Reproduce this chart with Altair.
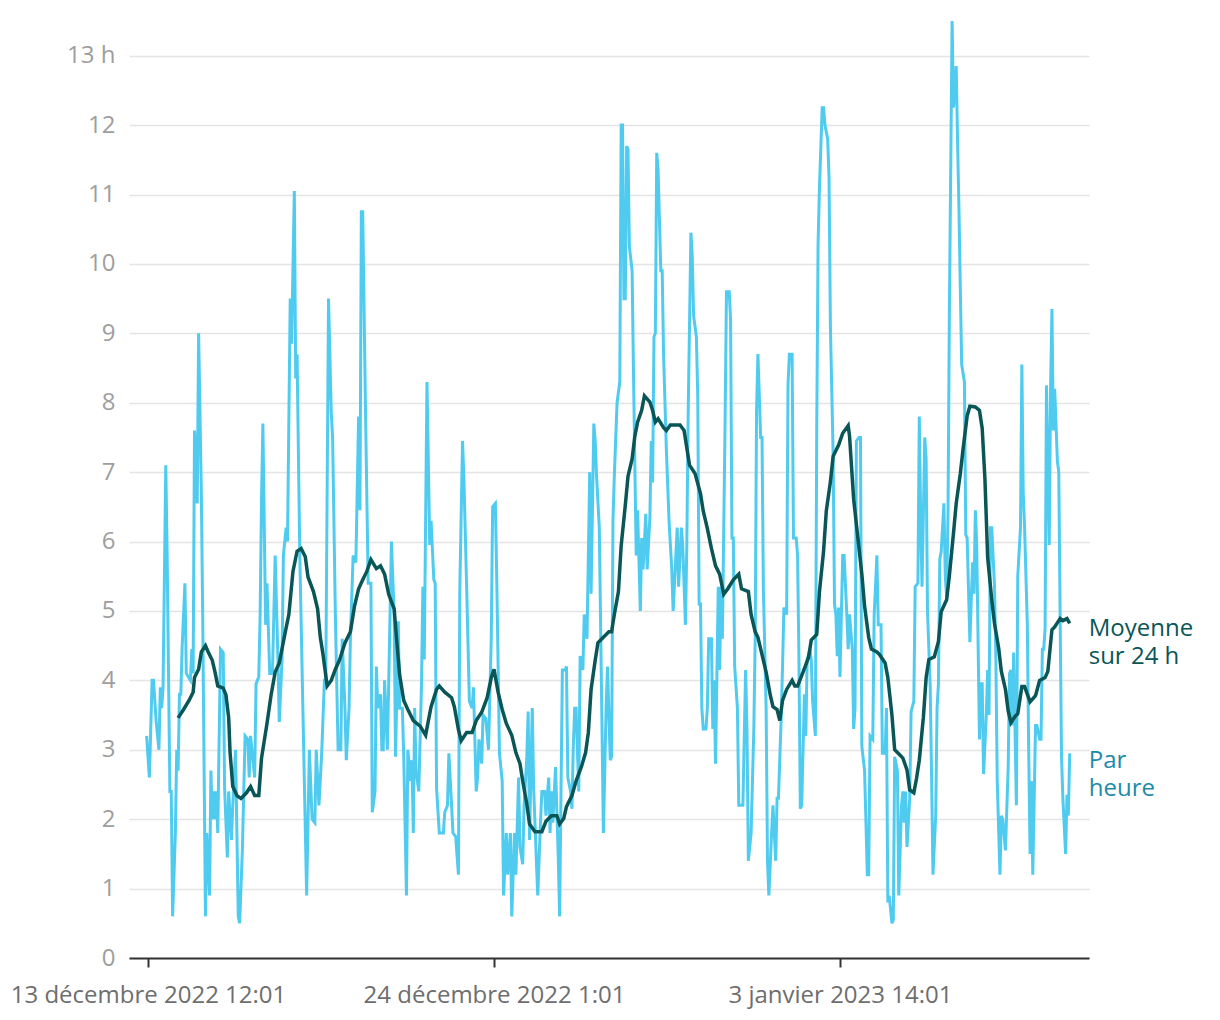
import json
import altair as alt
import pandas as pd

# ---------------- data ----------------
START = "2022-12-13 12:01"   # reference instant, hour offsets below are relative to it

# hourly series: (hour offset, value in h), split by stretch
HOURLY_A = [(-1,3.2),(1,2.6),(3,4.0),(4,4.0),(6,3.4),(8,3.0),(9,3.9),(10,3.6),(11,3.9),(13,7.1),
            (14,5.8),(16,2.4),(17,2.4),(18,0.6),(20,1.8),(21,3.0),(22,2.7),(23,3.8),(24,3.8),(25,4.5),
            (27,5.4),(28,4.1),(31,4.0),(32,4.45),(33,4.1),(34,7.6),(36,6.55),(37,9.0),(39,6.7),(40,4.95),
            (42,0.6),(43,1.8),(45,0.9),(46,2.7),(47,2.0),(48,2.4),(49,2.0),(50,2.4),(51,1.8),(53,4.45),
            (55,4.4),(56,2.45),(58,1.45),(59,2.4),(61,1.7),(62,2.2),(64,3.0),(66,0.6),(67,0.5),(69,1.55),
            (71,3.2),(73,3.15),(74,2.6),(75,3.2),(78,2.6),(79,3.95),(81,4.05),(82,4.95),(83,6.6),(84,7.7),
            (86,4.8),(87,5.4),(89,4.1),(91,4.1),(93,5.8),(95,4.3),(96,3.4),(98,4.3),(99,5.8),(101,6.2),
            (102,6.0),(104,9.5),(105,8.85),(107,11.05),(108,8.35),(109,8.7),(111,5.8),(116,0.9)]
HOURLY_B = [(118,3.0),(120,2.0),(122,1.95),(123,3.0),(125,2.2),(127,2.95),(129,4.0),(130,4.0),(132,9.5),(134,7.85),
            (135,7.5),(137,4.95),(139,3.0),(141,3.0),(142,4.6),(144,3.6),(145,2.85),(147,3.6),(148,4.6),(150,5.8),
            (152,5.7),(154,7.8),(155,6.45),(156,10.75),(157,10.75),(159,7.95),(161,5.4),(163,5.4),(164,2.1),(166,2.4),
            (167,4.2),(168,3.6),(170,3.8),(171,3.0),(172,3.0),(173,4.0),(175,3.0),(176,3.95),(178,6.0),(180,4.95),
            (181,2.9),(183,4.85),(184,3.6),(186,3.6),(187,2.9),(189,0.9),(190,3.0),(192,2.55),(193,2.85),(194,1.8),
            (195,3.6),(196,2.7),(198,2.4),(200,3.95),(201,5.35),(202,4.3),(204,8.3),(206,5.95),(207,6.3),(209,5.45),
            (210,5.4),(211,2.45),(213,1.8),(216,1.8),(217,2.1),(219,2.2),(220,2.95),(222,2.2),(223,1.8),(225,1.75),
            (227,1.2),(228,5.3),(230,7.45),(231,6.9),(233,5.35),(235,3.7)]
HOURLY_C = [(237,3.6),(238,3.9),(240,2.4),(241,2.6),(242,3.15),(244,2.8),(245,3.5),(247,3.45),(249,3.0),(251,4.6),
            (252,6.5),(254,6.55),(255,5.5),(257,2.95),(259,2.55),(260,0.9),(262,1.8),(263,1.2),(265,1.8),(266,0.6),
            (268,1.8),(269,1.2),(271,2.6),(272,1.6),(274,1.35),(275,2.2),(277,2.9),(278,3.55),(279,1.7),(281,3.6),
            (282,2.45),(284,1.4),(285,0.9),(287,1.95),(288,2.4),(290,2.4),(291,2.05),(293,2.6),(294,1.8),(295,2.4),
            (296,1.95),(298,2.75),(300,1.45),(301,0.6),(303,4.15),(305,4.15),(306,4.2),(307,2.6),(309,2.4),(310,2.15),
            (311,3.05),(312,3.6),(313,3.6),(315,2.4),(316,4.35),(318,4.15),(319,4.95),(321,4.6),(323,7.0),(324,5.25),
            (326,7.7),(327,7.45),(328,6.95),(330,6.2),(332,3.3),(333,1.8),(335,3.6),(336,4.2),(338,2.85),(339,2.9),
            (340,6.3),(341,6.95),(343,8.0),(345,8.3),(346,12.0),(347,12.0),(348,9.5),(349,9.5)]
HOURLY_D = [(350,11.7),(351,11.65),(352,10.25),(354,9.9),(355,8.45),(357,5.8),(358,6.45),(360,5.0),(361,6.05),(362,5.6),
            (364,6.4),(365,5.6),(367,6.35),(368,7.45),(369,6.85),(370,8.95),(371,9.0),(372,11.6),(373,11.35),(375,9.9),
            (376,9.9),(377,8.7),(379,7.35),(381,6.3),(383,5.6),(384,5.0),(386,5.8),(387,6.2),(388,5.35),(390,6.2),
            (391,5.95),(393,4.8),(394,5.95),(395,7.85),(397,10.45),(398,10.1),(399,9.25),(401,8.95),(402,8.1),(403,5.1),
            (404,5.1),(405,3.6),(406,3.3),(408,3.3),(409,3.6),(410,4.6),(412,4.6),(413,3.3),(414,4.0),(415,2.8),
            (417,5.35),(418,4.15),(419,5.35),(420,4.6),(422,7.75),(423,9.6),(425,9.6),(426,9.2),(427,6.05),(428,6.05),
            (429,4.2),(431,3.6),(432,2.2),(435,2.2),(437,4.15),(438,3.3),(439,1.4),(441,1.8),(443,3.3),(444,4.6),
            (445,7.9),(446,8.7),(448,7.5),(449,7.5),(450,5.3),(452,3.6),(453,1.4),(454,0.9),(456,1.8),(457,2.2),
            (458,1.8),(459,1.4),(460,2.3),(461,2.3),(463,3.45),(464,4.2),(465,5.05),(467,4.95),(468,8.25),(469,8.7)]
HOURLY_E = [(471,8.7),(472,6.05),(474,6.05),(475,5.8),(476,4.3),(477,2.15),(478,2.2),(480,3.8),(481,3.2),(482,4.3),
            (484,4.45),(485,4.3),(486,3.7),(488,3.2),(489,7.6),(490,10.3),(491,11.1),(493,12.25),(494,12.25),(495,12.0),
            (497,11.8),(498,11.25),(499,9.1),(501,7.25),(502,5.1),(503,4.95),(504,4.35),(505,5.05),(506,4.05),(508,5.8),
            (509,5.8),(511,4.95),(512,4.45),(513,4.95),(515,4.45),(516,3.3),(517,3.6),(518,7.45),(520,7.5),(521,7.5),
            (522,3.05),(524,2.7),(526,1.2),(527,1.2),(528,3.2),(530,3.15),(531,4.95),(532,5.35),(533,5.8),(534,4.8),
            (536,4.8),(537,2.95),(539,2.95),(540,3.6),(541,0.8),(542,0.9),(544,0.5),(545,0.55),(546,2.9),(548,2.7),
            (549,0.9),(551,2.2),(552,2.4),(553,1.95),(554,2.4),(555,1.6),(557,2.3),(558,3.55),(560,3.7),(561,5.35),
            (563,5.4),(564,7.8),(565,6.35),(566,5.35),(568,7.5),(569,7.2),(570,5.0),(572,3.9),(573,2.6),(574,1.2)]
HOURLY_F = [(576,2.05),(577,3.6),(578,3.95),(579,5.75),(580,5.85),(582,6.55),(583,5.5),(584,5.2),(585,6.4),(586,9.3),
            (587,11.4),(588,13.5),(589,12.25),(591,12.85),(592,11.75),(593,10.8),(594,9.65),(595,8.55),(597,8.3),(598,6.1),
            (599,6.05),(601,4.55),(602,5.15),(603,5.7),(604,5.25),(605,6.45),(606,5.95),(608,3.15),(609,3.95),(610,3.95),
            (611,2.65),(613,3.5),(614,4.15),(615,3.5),(616,6.2),(617,6.2),(619,5.35),(620,4.3),(621,2.55),(623,1.2),
            (624,2.05),(625,2.0),(627,1.55),(629,2.75),(630,4.1),(631,4.15),(632,3.35),(633,4.4),(635,2.2),(636,5.5),
            (638,6.2),(639,8.55),(640,6.7),(641,6.2),(643,4.8),(644,3.0),(645,1.5),(646,2.55),(647,1.2),(649,3.35),
            (650,3.35),(652,3.15),(653,3.15),(654,4.45),(655,4.45),(656,4.75),(657,8.25),(659,5.95),(660,8.2),(661,9.35),
            (662,7.6),(663,8.2),(665,7.15),(666,7.0),(667,4.9),(668,2.9),(669,2.3),(671,1.5),(672,2.35),(673,2.05),(674,2.95)]

# 24 h moving average, read separately
AVG_1 = [(22,3.46),(26,3.58),(30,3.71),(33,3.83),(34,4.04),(37,4.16),(39,4.41),(42,4.5),(44,4.41),(47,4.29),
         (49,4.12),(51,3.92),(55,3.89),(57,3.79),(59,3.46),(60,2.96),(62,2.47),(65,2.34),(68,2.3),(72,2.38),
         (75,2.47),(78,2.34),(81,2.34),(83,2.88),(87,3.38),(90,3.79),(93,4.12),(96,4.25),(100,4.66),(103,4.95),
         (106,5.57),(109,5.86),(112,5.9),(115,5.78),(117,5.49),(121,5.28),(124,5.03),(126,4.62),(128,4.37),(131,3.92),
         (134,4.0),(137,4.16),(140,4.29),(144,4.54),(148,4.7),(151,5.07),(154,5.32),(157,5.45),(160,5.57),(163,5.74),
         (167,5.61),(170,5.65),(173,5.53),(176,5.24),(180,5.03),(182,4.54),(184,4.08),(187,3.71),(190,3.58),(194,3.42),
         (199,3.34),(203,3.21),(207,3.62),(211,3.87),(213,3.92),(217,3.83),(222,3.75),(224,3.62),(227,3.29),(229,3.13)]
AVG_2 = [(233,3.25),(237,3.25),(240,3.42),(244,3.54),(248,3.75),(251,4.04),(253,4.16),(256,3.83),(259,3.58),(262,3.38),
         (266,3.21),(269,2.96),(272,2.8),(274,2.55),(277,2.22),(279,1.93),(283,1.82),(288,1.82),(291,1.97),(295,2.05),
         (299,2.05),(301,1.93),(304,2.01),(306,2.18),(310,2.34),(313,2.55),(317,2.76),(320,2.96),(322,3.25),(324,3.87),
         (327,4.29),(329,4.54),(333,4.62),(337,4.7),(339,4.7),(341,4.95),(344,5.28),(346,5.94),(349,6.52),(351,6.94),
         (354,7.19),(356,7.52),(358,7.72),(361,7.89),(363,8.1),(367,8.01),(369,7.89),(371,7.72),(373,7.77),(377,7.64),
         (379,7.6),(382,7.68),(385,7.68),(389,7.68),(392,7.6),(394,7.35),(396,7.1),(400,6.98),(404,6.69),(406,6.44),
         (409,6.19),(412,5.9),(415,5.65),(418,5.53),(421,5.24),(424,5.32),(428,5.45),(432,5.53),(434,5.32),(439,5.28)]
AVG_3 = [(441,4.95),(444,4.7),(446,4.62),(449,4.37),(452,4.12),(455,3.79),(457,3.62),(460,3.58),(462,3.42),(464,3.71),
         (467,3.87),(471,4.0),(473,3.92),(475,3.92),(479,4.12),(483,4.33),(485,4.58),(489,4.66),(491,5.28),(494,5.86),
         (496,6.44),(499,6.86),(501,7.23),(505,7.39),(508,7.56),(512,7.67),(513,7.52),(516,6.61),(519,6.07),(522,5.53),
         (524,5.07),(527,4.62),(529,4.45),(533,4.41),(535,4.37),(539,4.25),(541,4.04),(544,3.5),(546,3.0),(550,2.92),
         (552,2.88),(555,2.71),(557,2.42),(560,2.38),(562,2.59),(564,2.85),(567,3.47),(569,4.04),(571,4.3),(575,4.34),
         (578,4.56),(580,4.99),(584,5.16),(586,5.51),(589,6.12),(591,6.55),(594,6.98),(596,7.33),(599,7.81),(601,7.95),
         (605,7.94),(608,7.89),(610,7.63),(612,6.9),(614,5.77),(617,5.16),(619,4.82),(622,4.47),(624,4.13),(627,3.87),
         (629,3.56),(631,3.39),(634,3.48),(636,3.52),(639,3.91),(641,3.91),(645,3.69),(649,3.78),(652,4.0),(656,4.04),
         (658,4.13),(661,4.73),(663,4.77),(667,4.89),(669,4.86),(672,4.89),(674,4.82)]

MONTHS = ["janvier", "février", "mars", "avril", "mai", "juin", "juillet", "août",
          "septembre", "octobre", "novembre", "décembre"]
Y_TICKS = list(range(0, 14))
SERIES_LABELS = {"avg": "Moyenne\nsur 24 h", "hourly": "Par\nheure"}

# ---------------- build tables ----------------
start = pd.Timestamp(START)


def frame(pairs):
    df = pd.DataFrame(pairs, columns=["h", "v"])
    df["t"] = (start + pd.to_timedelta(df["h"], unit="h")).dt.strftime("%Y-%m-%dT%H:%M:%S")
    return df


hourly = frame(HOURLY_A + HOURLY_B + HOURLY_C + HOURLY_D + HOURLY_E + HOURLY_F)
avg = frame(AVG_1 + AVG_2 + AVG_3)
hourly_last = hourly.tail(1).assign(label=SERIES_LABELS["hourly"])
avg_last = avg.tail(1).assign(label=SERIES_LABELS["avg"])

FONT = "Open Sans"
C_HOURLY = "#4fcbf0"
C_AVG = "#0a5656"

month_expr = json.dumps(MONTHS, ensure_ascii=False)
x_label_expr = (
    f"date(datum.value) + ' ' + {month_expr}[month(datum.value)] + ' ' + year(datum.value)"
    " + ' ' + hours(datum.value) + ':' + timeFormat(datum.value, '%M')"
)

x_scale = alt.Scale(domain=[alt.DateTime(year=2022, month=12, date=12, hours=22, minutes=7),
                            alt.DateTime(year=2023, month=1, date=11, hours=4, minutes=7)])
y_scale = alt.Scale(domain=[0, 13.5], nice=False)

x_axis = alt.Axis(
    values=[alt.DateTime(year=2022, month=12, date=13, hours=12, minutes=1),
            alt.DateTime(year=2022, month=12, date=24, hours=1, minutes=1),
            alt.DateTime(year=2023, month=1, date=3, hours=14, minutes=1)],
    labelExpr=x_label_expr, grid=False, domainColor="#333333", domainWidth=2,
    tickColor="#333333", tickWidth=2, tickSize=9, labelColor="#6e6e6e",
    labelFont=FONT, labelFontSize=24, labelPadding=16, labelFlush=False,
    labelOverlap=False, labelLimit=1000, title=None,
)
y_axis = alt.Axis(
    values=Y_TICKS, labelExpr="datum.value == 13 ? '13 h' : '' + datum.value",
    domain=False, ticks=False, grid=True, gridColor="#e4e4e4", gridWidth=1.5,
    labelColor="#9e9e9e", labelFont=FONT, labelFontSize=24, labelPadding=14, title=None,
)

x_enc = alt.X("t:T", scale=x_scale, axis=x_axis)
y_enc = alt.Y("v:Q", scale=y_scale, axis=y_axis)

line_hourly = alt.Chart(hourly).mark_line(color=C_HOURLY, strokeWidth=3).encode(x=x_enc, y=y_enc)
line_avg = alt.Chart(avg).mark_line(color=C_AVG, strokeWidth=3.5).encode(
    x=alt.X("t:T", scale=x_scale), y=alt.Y("v:Q", scale=y_scale))

text_avg = alt.Chart(avg_last).mark_text(
    align="left", baseline="top", dx=19, dy=-6, font=FONT, fontSize=24,
    lineHeight=28, lineBreak="\n", color=C_AVG,
).encode(x=alt.X("t:T", scale=x_scale), y=alt.Y("v:Q", scale=y_scale), text="label:N")
text_hourly = alt.Chart(hourly_last).mark_text(
    align="left", baseline="top", dx=19, dy=-4, font=FONT, fontSize=24,
    lineHeight=28, lineBreak="\n", color="#1b8bab",
).encode(x=alt.X("t:T", scale=x_scale), y=alt.Y("v:Q", scale=y_scale), text="label:N")

chart = (
    alt.layer(line_hourly, line_avg, text_avg, text_hourly)
    .properties(width=960, height=937,
                autosize=alt.AutoSizeParams(type="none"),
                padding={"left": 121, "top": 13, "right": 110, "bottom": 52})
    .configure_view(stroke=None)
)

chart.save("out.html", embed_options={"renderer": "svg", "actions": False})
